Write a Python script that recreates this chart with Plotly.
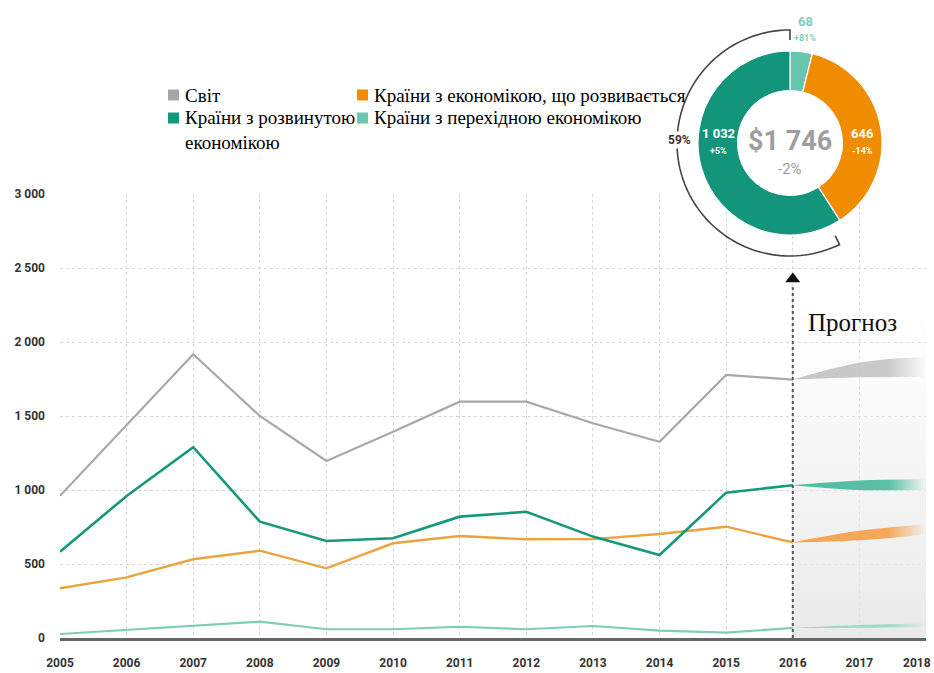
import math
import plotly.graph_objects as go

# ---------------- data ----------------
years = list(range(2005, 2017))
world = [961, 1440, 1917, 1500, 1196, 1394, 1597, 1597, 1451, 1326, 1777, 1746]
developed = [583, 960, 1289, 786, 655, 674, 820, 853, 685, 561, 982, 1032]
developing = [336, 410, 532, 590, 471, 640, 689, 667, 668, 703, 752, 646]
transition = [27, 54, 81, 110, 59, 59, 76, 59, 81, 50, 36, 68]

forecast_years = [2016, 2017, 2018]
world_hi = [1746, 1860, 1900]
world_lo = [1746, 1762, 1766]
developed_hi = [1032, 1064, 1072]
developed_lo = [1032, 1000, 1002]
developing_hi = [646, 724, 768]
developing_lo = [646, 660, 700]
transition_hi = [68, 88, 98]
transition_lo = [68, 70, 75]

x_ticks = list(range(2005, 2019))
x_ticktext = [str(y) for y in x_ticks]
y_ticks = [0, 500, 1000, 1500, 2000, 2500, 3000]
y_ticktext = ["0", "500", "1 000", "1 500", "2 000", "2 500", "3 000"]

donut_labels = ["Країни з перехідною економікою", "Країни з економікою, що розвивається",
                "Країни з розвинутою економікою"]
donut_values = [68, 646, 1032]
donut_changes = ["+81%", "-14%", "+5%"]
donut_total = "$1 746"
donut_total_change = "-2%"
developed_share = "59%"

legend_names = ["Світ", "Країни з розвинутою<br>економікою",
                "Країни з економікою, що розвивається", "Країни з перехідною економікою"]

# ---------------- colours ----------------
C_WORLD = "#a8a8a8"
C_DEV = "#16987a"
C_DEVING = "#e9a33f"
C_TRANS = "#7fcdb9"
PIE_COLORS = ["#68c4ad", "#ef8c00", "#12957a"]
LEG_COLORS = ["#a6a6a6", "#109a7a", "#f08c00", "#6cc6b0"]

# ---------------- geometry helpers ----------------
W, H = 934, 673
L, R, T, B = 60, 8, 10, 35
PW, PH = W - L - R, H - T - B


def px(x):
    return (x - L) / PW


def py(y):
    return (H - B - y) / PH


fig = go.Figure()

# forecast background
fig.add_trace(go.Scatter(
    x=[forecast_years[0], forecast_years[-1]], y=[y_ticks[-1], y_ticks[-1]],
    mode="lines", line=dict(width=0), fill="tozeroy",
    fillgradient=dict(type="vertical", start=0, stop=3000,
                      colorscale=[[0, "rgba(228,228,228,0.8)"], [0.45, "rgba(238,238,238,0.5)"],
                                  [0.85, "rgba(255,255,255,0)"], [1, "rgba(255,255,255,0)"]]),
    hoverinfo="skip", showlegend=False))


def band(lo, hi, rgb):
    fig.add_trace(go.Scatter(x=forecast_years, y=lo, mode="lines",
                             line=dict(width=0, shape="spline"),
                             hoverinfo="skip", showlegend=False))
    fig.add_trace(go.Scatter(
        x=forecast_years, y=hi, mode="lines", line=dict(width=0, shape="spline"),
        fill="tonexty",
        fillgradient=dict(type="horizontal", start=2016, stop=2018,
                          colorscale=[[0, f"rgba({rgb},0.95)"], [0.72, f"rgba({rgb},0.88)"],
                                      [1, f"rgba({rgb},0.0)"]]),
        hoverinfo="skip", showlegend=False))


band(world_lo, world_hi, "195,195,195")
band(developed_lo, developed_hi, "70,185,155")
band(developing_lo, developing_hi, "244,160,70")
band(transition_lo, transition_hi, "150,215,198")

for vals, col, w in [(world, C_WORLD, 2.2), (developing, C_DEVING, 2.4),
                     (developed, C_DEV, 2.6), (transition, C_TRANS, 2.2)]:
    fig.add_trace(go.Scatter(x=years, y=vals, mode="lines",
                             line=dict(color=col, width=w), showlegend=False))

# arrow head above forecast line
fig.add_trace(go.Scatter(x=[forecast_years[0]], y=[2425], mode="markers",
                         marker=dict(symbol="triangle-up", size=13, color="#111"),
                         hoverinfo="skip", showlegend=False))

# donut
fig.add_trace(go.Pie(
    labels=donut_labels, values=donut_values, hole=0.57, sort=False,
    direction="clockwise", rotation=0,
    marker=dict(colors=PIE_COLORS, line=dict(color="white", width=1.2)),
    textinfo="none", hoverinfo="label+value", showlegend=False,
    domain=dict(x=[px(698), px(882)], y=[py(235), py(51)])))

tick_font = dict(family="Roboto, Liberation Sans Narrow, sans-serif",
                 size=12, color="#333", weight="bold")

fig.update_layout(
    width=W, height=H, autosize=False,
    margin=dict(l=L, r=R, t=T, b=B, autoexpand=False),
    paper_bgcolor="white", plot_bgcolor="white",
    xaxis=dict(range=[2005, 2018], tickvals=x_ticks, ticktext=x_ticktext,
               showgrid=True, griddash="dot", gridcolor="#d6d6d6", gridwidth=1,
               showline=True, linecolor="#666", linewidth=3, zeroline=False,
               ticks="", ticklabelstandoff=12, tickfont=tick_font, fixedrange=True,
               automargin=False),
    yaxis=dict(range=[0, 3000], domain=[0, py(194)], tickvals=y_ticks, ticktext=y_ticktext,
               showgrid=True, griddash="dot", gridcolor="#d6d6d6", gridwidth=1,
               zeroline=False, ticks="", ticklabelstandoff=14, tickfont=tick_font,
               fixedrange=True, automargin=False),
)

# last year label, kept inside the page edge
fig.add_annotation(x=px(933), xref="paper", y=py(663), yref="paper", text=x_ticktext[-1],
                   showarrow=False, xanchor="right", yanchor="middle", font=tick_font)

# forecast vertical dotted line
fig.add_shape(type="line", xref="x", yref="y", x0=forecast_years[0], x1=forecast_years[0],
              y0=0, y1=2370, line=dict(color="#555", width=2, dash="dot"))

fig.add_annotation(x=px(806), y=py(322), xref="paper", yref="paper", xanchor="left",
                   yanchor="middle", text="Прогноз", showarrow=False,
                   font=dict(family="Liberation Serif, Times New Roman, serif", size=25,
                             color="#111"))

# legend (custom layout)
serif = "Liberation Serif, Times New Roman, serif"
leg_pos = [(168, 95, 183, 95), (168, 118, 183, 129.5), (357, 95, 372, 95), (357, 118, 372, 118)]
for (sx, sy, tx, ty), name, col in zip(leg_pos, legend_names, LEG_COLORS):
    fig.add_shape(type="rect", xref="paper", yref="paper",
                  x0=px(sx), x1=px(sx + 11), y0=py(sy - 5.5), y1=py(sy + 5.5),
                  fillcolor=col, line=dict(width=0))
    fig.add_annotation(x=px(tx), y=py(ty), xref="paper", yref="paper", xanchor="left",
                       yanchor="middle", align="left", text=name, showarrow=False,
                       font=dict(family=serif, size=19, color="#000"))

# bracket arc around developed slice
cx, cy, rr = 790, 143, 113
pts = []
pts.append((cx, cy - rr + 10))
for i in range(0, 101):
    ang = math.radians(360 - (360 - 154) * i / 100)
    pts.append((cx + rr * math.sin(ang), cy - rr * math.cos(ang)))
ang_end = math.radians(154)
pts.append((cx + (rr - 10) * math.sin(ang_end), cy - (rr - 10) * math.cos(ang_end)))
path = "M " + " L ".join(f"{px(a):.5f},{py(b):.5f}" for a, b in pts)
fig.add_shape(type="path", xref="paper", yref="paper", path=path,
              line=dict(color="#444", width=1.6))

num_font = "Roboto, Liberation Sans Narrow, sans-serif"


def txt(x, y, s, size, color, bold=True, bg=None):
    fig.add_annotation(x=px(x), y=py(y), xref="paper", yref="paper", text=s,
                       showarrow=False, xanchor="center", yanchor="middle",
                       bgcolor=bg, borderpad=1,
                       font=dict(family=num_font, size=size, color=color,
                                 weight="bold" if bold else "normal"))


txt(790, 141, donut_total, 27, "#9e9e9e")
txt(790, 169, donut_total_change, 15, "#9e9e9e", bold=False)
txt(718, 134, "1 032", 13, "white")
txt(718, 151, donut_changes[2], 9, "white")
txt(862, 134, str(donut_values[1]), 13, "white")
txt(862, 151, donut_changes[1], 9, "white")
txt(805, 22, str(donut_values[0]), 13, "#7fcdb9")
txt(805, 38, donut_changes[0], 9, "#7fcdb9")
txt(679, 140, developed_share, 12, "#333", bg="white")

fig.write_html("out.html")
